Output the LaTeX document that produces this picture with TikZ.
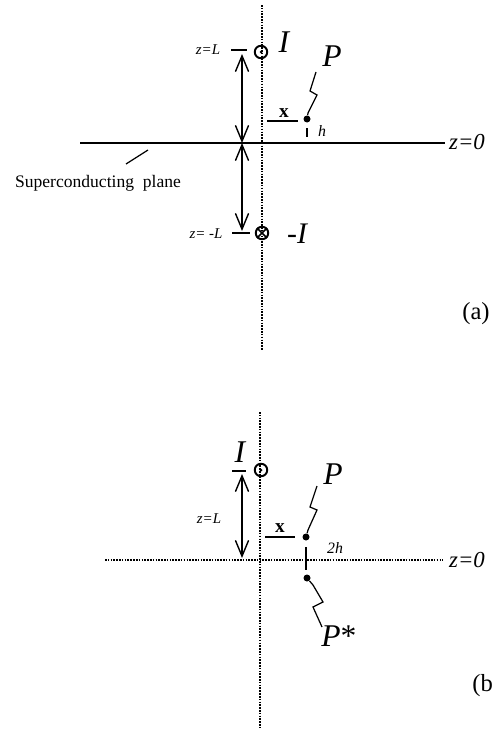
\documentclass[tikz,border=0pt]{standalone}
\usepackage{fontspec}
\setmainfont{Liberation Serif}
\usetikzlibrary{arrows.meta}
\begin{document}
\begin{tikzpicture}[x=0.02cm,y=-0.02cm,
  axis/.style={line width=1.0pt, dash pattern=on 0.9pt off 0.7pt},
  plane/.style={line width=1.1pt},
  dimarrow/.style={line width=0.8pt,
    {Straight Barb[length=9pt,width=7.5pt,line width=0.8pt]}-{Straight Barb[length=9pt,width=7.5pt,line width=0.8pt]}},
  tickline/.style={line width=0.8pt},
  thin/.style={line width=0.7pt},
  src/.style={circle, draw, line width=1.1pt, minimum size=0.25cm, inner sep=0pt},
  pdot/.style={circle, fill, minimum size=0.14cm, inner sep=0pt},
  cdot/.style={circle, fill, minimum size=0.06cm, inner sep=0pt},
  lab/.style={inner sep=0pt},
  big/.style={lab, font=\fontsize{18}{20}\selectfont\itshape},
  small/.style={lab, font=\fontsize{8.5}{10}\selectfont\itshape},
  zlab/.style={lab, font=\fontsize{13}{15}\selectfont\itshape},
  panel/.style={lab, font=\fontsize{14}{16}\selectfont}
]
\useasboundingbox (0,0) rectangle (492,730);

% ---------------- panel (a) ----------------
\coordinate (aTop) at (262,5);
\coordinate (aBot) at (262,350);
\draw[axis] (aTop) -- (aBot);
\coordinate (plL) at (80,143);
\coordinate (plR) at (445,143);
\draw[plane] (plL) -- (plR);
\node[zlab] (z0a) at (467,142) {z=0};

\node[src] (Ia) at (261,52) {};
\node[cdot] (Iac) at (Ia.center) {};
\node[big] (Ilab) at (284,42) {I};

\node[src] (mIa) at (262,233) {};
\draw[line width=0.9pt] (mIa.45) -- (mIa.225) (mIa.135) -- (mIa.315);
\node[big, font=\fontsize{17}{19}\selectfont\itshape] (mIlab) at (297,234) {-I};

\node[small] (zLa) at (208,50) {z=L};
\coordinate (tLa1) at (231,50);
\coordinate (tLa2) at (247,50);
\draw[tickline] (tLa1) -- (tLa2);
\node[small] (zmLa) at (206,234) {z= -L};
\coordinate (tmLa1) at (232,233);
\coordinate (tmLa2) at (250,233);
\draw[tickline] (tmLa1) -- (tmLa2);

\coordinate (arA1) at (242,54);
\coordinate (arA2) at (242,143);
\coordinate (arA3) at (242,231);
\draw[dimarrow] (arA1) -- (arA2);
\draw[dimarrow] (arA2) -- (arA3);

\node[pdot] (Pa) at (307,119) {};
\node[big] (Plab) at (332,56) {P};
\draw[thin] (Pa) -- (308,113) -- (317,95) -- (310,91) -- (316,72);
\coordinate (xa1) at (267,121);
\coordinate (xa2) at (298,121);
\draw[tickline] (xa1) -- (xa2);
\node[lab, font=\fontsize{11}{12}\selectfont\bfseries] (xlab) at (284,113) {x};
\coordinate (ha1) at (307,128);
\coordinate (ha2) at (307,137);
\draw[line width=1pt] (ha1) -- (ha2);
\node[lab, font=\fontsize{9}{10}\selectfont\itshape] (hlab) at (322,131) {h};

\node[lab, font=\fontsize{10}{12}\selectfont] (sc) at (98,183) {Superconducting\ \ plane};
\coordinate (ld1) at (126,164);
\coordinate (ld2) at (148,150);
\draw[thin] (ld1) -- (ld2);

\node[panel] (pa) at (476,314) {(a)};

% ---------------- panel (b) ----------------
\coordinate (bTop) at (260,412);
\coordinate (bBot) at (260,727);
\draw[axis] (bTop) -- (bBot);
\coordinate (hbL) at (105,560);
\coordinate (hbR) at (443,560);
\draw[axis] (hbL) -- (hbR);
\node[zlab] (z0b) at (467,560) {z=0};

\node[src] (Ib) at (261,470) {};
\node[cdot] (Ibc) at (Ib.center) {};
\node[big] (Iblab) at (240,452) {I};
\coordinate (tLb1) at (232,471);
\coordinate (tLb2) at (246,471);
\draw[tickline] (tLb1) -- (tLb2);
\node[small] (zLb) at (209,519) {z=L};
\coordinate (arB1) at (242,474);
\coordinate (arB2) at (242,558);
\draw[dimarrow] (arB1) -- (arB2);

\node[pdot] (Pb) at (306,537) {};
\node[big] (Pblab) at (333,474) {P};
\draw[thin] (Pb) -- (308,530) -- (317,510) -- (310,507) -- (317,486);
\coordinate (xb1) at (265,537);
\coordinate (xb2) at (295,537);
\draw[tickline] (xb1) -- (xb2);
\node[lab, font=\fontsize{11}{12}\selectfont\bfseries] (xblab) at (280,528) {x};

\node[pdot] (Ps) at (307,578) {};
\coordinate (v1) at (306,547);
\coordinate (v2) at (306,570);
\draw[line width=1.1pt] (v1) -- (v2);
\node[lab, font=\fontsize{9}{10}\selectfont\itshape] (twoh) at (335,548) {2h};
\node[big, anchor=west] (Pslab) at (321,636) {P\upshape*};
\draw[thin] (Ps) -- (313,585) -- (323,602) -- (313,607) -- (322,627);

\node[panel, anchor=west] (pb) at (472,686) {(b};
\end{tikzpicture}
\end{document}
